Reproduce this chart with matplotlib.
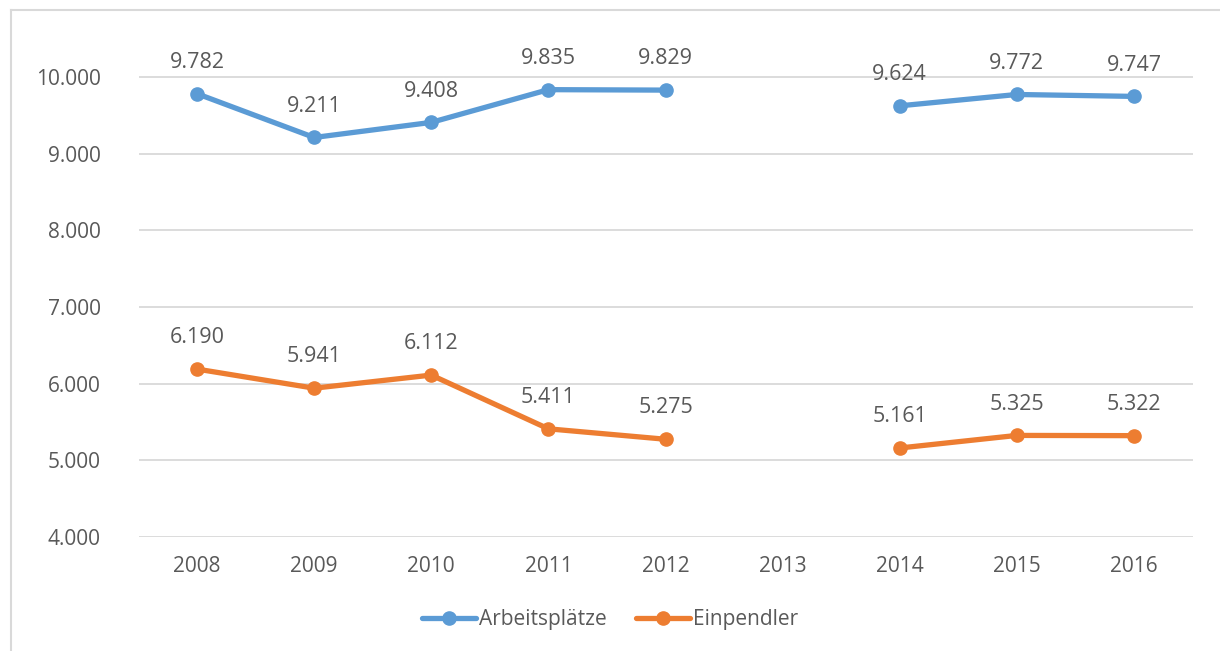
import matplotlib
matplotlib.use("Agg")
import matplotlib.pyplot as plt
import numpy as np
from matplotlib.lines import Line2D

years = ["2008", "2009", "2010", "2011", "2012", "2013", "2014", "2015", "2016"]
arbeitsplaetze = [9782, 9211, 9408, 9835, 9829, np.nan, 9624, 9772, 9747]
einpendler = [6190, 5941, 6112, 5411, 5275, np.nan, 5161, 5325, 5322]
yticks = [4000, 5000, 6000, 7000, 8000, 9000, 10000]

def fmt(v):
    return f"{int(v):,}".replace(",", ".")

plt.rcParams['font.family'] = ['Open Sans', 'DejaVu Sans']
W, H = 1220, 651
fig = plt.figure(figsize=(W/100, H/100), dpi=100)
fig.patch.set_facecolor("white")
# partial frame (top and left edges visible in the reference)
fig.lines.append(Line2D([11/W, 1], [1 - 10/H, 1 - 10/H], transform=fig.transFigure,
                        color="#D9D9D9", lw=1.5))
fig.lines.append(Line2D([11/W, 11/W], [0, 1 - 10/H], transform=fig.transFigure,
                        color="#D9D9D9", lw=1.5))

ax = fig.add_axes([138.5/W, 114/H, 1054/W, (537-31)/H])
x = np.arange(len(years))
txtc = "#595959"
blue = "#5B9BD5"
orange = "#ED7D31"

ax.plot(x, arbeitsplaetze, color=blue, lw=3.8, marker="o", ms=9.5, label="Arbeitsplätze",
        solid_capstyle="round", zorder=3)
ax.plot(x, einpendler, color=orange, lw=3.8, marker="o", ms=9.5, label="Einpendler",
        solid_capstyle="round", zorder=3)

for series in (arbeitsplaetze, einpendler):
    for xi, v in zip(x, series):
        if not np.isnan(v):
            ax.annotate(fmt(v), (xi, v), xytext=(0, 15), textcoords="offset points",
                        ha="center", va="bottom", fontsize=15.5, color=txtc)

ax.set_xlim(-0.5, len(years) - 0.5)
ax.set_ylim(4000, 10600)
ax.set_yticks(yticks)
ax.set_yticklabels([fmt(v) for v in yticks])
ax.set_xticks(x)
ax.set_xticklabels(years)
ax.tick_params(length=0, labelsize=15, labelcolor=txtc)
ax.tick_params(axis="y", pad=27)
ax.tick_params(axis="x", pad=14)
ax.grid(axis="y", color="#D9D9D9", lw=1.3)
ax.set_axisbelow(True)
for s in ax.spines.values():
    s.set_visible(False)

fig.legend(loc="center", bbox_to_anchor=(0.5, 1 - 620/H), ncol=2, frameon=False,
           fontsize=15, labelcolor=txtc, handlelength=2.6, handletextpad=0.15,
           columnspacing=1.4)

fig.savefig("out.png", dpi=100, facecolor="white")
